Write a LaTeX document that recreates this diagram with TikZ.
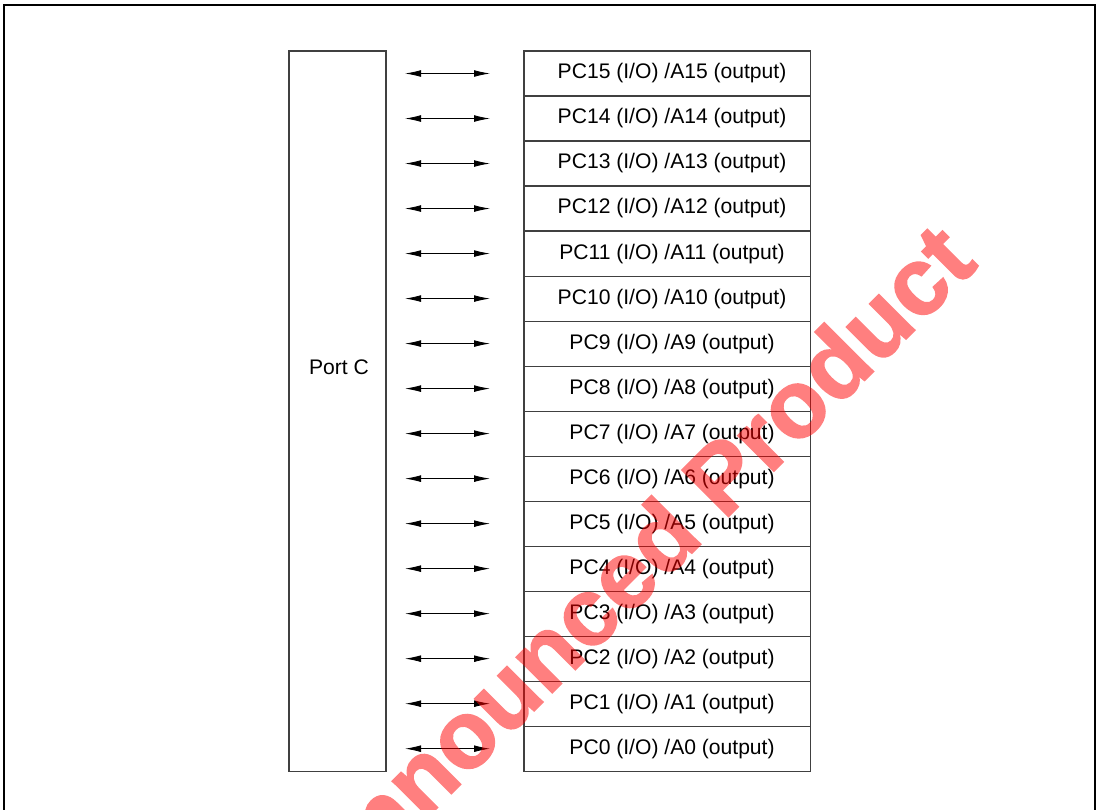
\documentclass[tikz,border=0pt]{standalone}
\usepackage{fontspec}
\setmainfont{Liberation Sans}
\newfontfamily\wmfont[FakeBold=1.6]{Liberation Sans}
\usetikzlibrary{positioning,arrows.meta,calc}

\begin{document}
\begin{tikzpicture}[
    x=0.025cm, y=-0.025cm,
    node distance=0pt,
    font=\fontsize{15}{18}\selectfont,
    pinbox/.style={draw=black!75, line width=0.8pt, minimum width=7.15cm, minimum height=1.125cm, inner sep=0pt, outer sep=0pt, align=center},
    portbox/.style={draw=black!75, line width=0.8pt, minimum width=2.425cm, minimum height=18cm, inner sep=0pt, outer sep=0pt},
    biarr/.style={{Latex[length=4mm,width=1.7mm]}-{Latex[length=4mm,width=1.7mm]}, line width=0.6pt},
    wmark/.style={text=red, font=\wmfont\bfseries\fontsize{68}{68}\selectfont, rotate=45, anchor=base east}
]
\useasboundingbox (0,0) rectangle (1100,810);
\begin{scope}
\clip (0,0) rectangle (1100,810);
% frame
\draw[line width=1.4pt] (4,830) -- (4,5) -- (1095,5) -- (1095,830);

% port and pins
\node[portbox, anchor=north west] (port) at (289,51) {};
\node (portlabel) at (339,367) {Port C};
\node[pinbox, anchor=north west] (pc15) at (524,51) {\hspace*{0.25cm}PC15 (I/O) /A15 (output)};
\foreach \i [evaluate=\i as \j using int(\i+1)] in {14,13,...,0}
    \node[pinbox, below=of pc\j] (pc\i) {\hspace*{0.25cm}PC\i\ (I/O) /A\i\ (output)};

% arrows
\foreach \i in {15,14,...,0}
    \draw[biarr] ($(pc\i.west)+(-119,0)$) -- ($(pc\i.west)+(-34,0)$);

% watermark
\begin{scope}[transparency group, opacity=0.5]
\node[wmark] (watermark) at (983,262) {Unannounced Product};
\end{scope}
\end{scope}
\end{tikzpicture}
\end{document}
